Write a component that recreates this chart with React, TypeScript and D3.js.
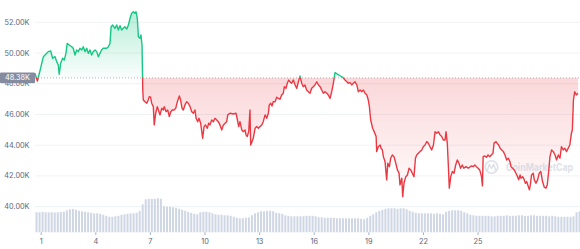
import React from 'react';
import * as d3 from 'd3';

// price series: [day of month, price USD]
const priceSeries: [number, number][] = [
  [0.66,48680],[0.79,48180],[0.90,48680],[1.03,49330],[1.12,49760],[1.21,49870],[1.39,50090],[1.52,50130],
  [1.63,49660],[1.76,49760],[1.85,49440],[1.94,49220],[1.99,48620],[2.07,49330],[2.18,49660],[2.27,49550],
  [2.36,49980],[2.43,50630],[2.54,50520],[2.68,50410],[2.76,50310],[2.86,49870],[2.95,50200],[3.04,50090],
  [3.13,50310],[3.23,50200],[3.31,50410],[3.41,50090],[3.50,50310],[3.59,49980],[3.68,50200],[3.77,49870],
  [3.86,50090],[3.96,50200],[4.05,50090],[4.14,49760],[4.23,49980],[4.32,50200],[4.41,50310],[4.60,50310],
  [4.69,50410],[4.78,50630],[4.84,51710],[4.93,51820],[5.05,51610],[5.15,51820],[5.24,51500],[5.33,51780],
  [5.42,51500],[5.51,51610],[5.60,51710],[5.70,51560],[5.79,51820],[5.88,52260],[5.97,52590],[6.06,52690],
  [6.15,52590],[6.21,52690],[6.28,52260],[6.34,51060],[6.43,50960],[6.48,51170],[6.54,50520],[6.58,47590],
  [6.61,46940],[6.70,46830],[6.80,46730],[6.88,46940],[6.94,47160],[7.01,47120],[7.07,46730],[7.16,46510],
  [7.21,45320],[7.29,46080],[7.38,46510],[7.47,46180],[7.53,45970],[7.62,46400],[7.71,46290],[7.76,46510],
  [7.86,46180],[7.95,46290],[8.04,45860],[8.12,46180],[8.20,46290],[8.30,46290],[8.39,46400],[8.48,46830],
  [8.59,47200],[8.66,46940],[8.74,46400],[8.81,46290],[8.90,46620],[8.99,46830],[9.08,46730],[9.18,46510],
  [9.27,46180],[9.36,46080],[9.45,46290],[9.51,45750],[9.60,45530],[9.67,45750],[9.76,45430],[9.87,44450],
  [9.95,45210],[10.02,45320],[10.13,45100],[10.20,45430],[10.27,45320],[10.37,45640],[10.46,45530],[10.55,45750],
  [10.64,45640],[10.73,45530],[10.82,45320],[10.92,44990],[11.01,45320],[11.10,45430],[11.19,45530],[11.25,45970],
  [11.37,46080],[11.55,46030],[11.70,46080],[11.78,45640],[11.85,45210],[11.92,45530],[12.02,44990],[12.10,44880],
  [12.20,44990],[12.25,44670],[12.32,44560],[12.40,44880],[12.47,46290],[12.51,44010],[12.65,44450],[12.75,45100],
  [12.84,45210],[12.93,45100],[13.02,45210],[13.12,45320],[13.20,45530],[13.30,45970],[13.39,45750],[13.48,46080],
  [13.53,46620],[13.61,46730],[13.68,46550],[13.75,46830],[13.85,46830],[13.94,47120],[14.03,47050],[14.12,46990],
  [14.21,47270],[14.30,47380],[14.36,47810],[14.45,47700],[14.52,48030],[14.60,48240],[14.67,48130],[14.76,48030],
  [14.85,48240],[14.95,47920],[15.04,47700],[15.13,48130],[15.22,48500],[15.31,48030],[15.40,47810],[15.49,47920],
  [15.58,47590],[15.68,47480],[15.77,47380],[15.86,47700],[15.95,47810],[16.04,47920],[16.14,48130],[16.23,47920],
  [16.32,47810],[16.41,47590],[16.50,47380],[16.59,47480],[16.69,47380],[16.77,47270],[16.87,47050],[16.96,47480],
  [17.05,48030],[17.14,48720],[17.27,48620],[17.42,48520],[17.57,48420],[17.69,48240],[17.79,48130],[17.87,48030],
  [17.97,48070],[18.06,47920],[18.15,48030],[18.24,48130],[18.34,47920],[18.42,47480],[18.52,47590],[18.61,47480],
  [18.70,47590],[18.79,47380],[18.89,47270],[18.97,46940],[19.03,46510],[19.10,45640],[19.21,45100],[19.29,44880],
  [19.40,44560],[19.43,43580],[19.52,43900],[19.62,44010],[19.67,43800],[19.74,43690],[19.80,43250],[19.89,42930],
  [19.98,41740],[20.04,42820],[20.13,42600],[20.20,43150],[20.29,43360],[20.38,43250],[20.48,42820],[20.57,42390],
  [20.66,42170],[20.71,41410],[20.81,41850],[20.86,40650],[20.93,41520],[21.03,41950],[21.12,42060],[21.21,42500],
  [21.30,42390],[21.39,42170],[21.48,41950],[21.56,43150],[21.63,43360],[21.72,43470],[21.81,43580],[21.91,43690],
  [21.99,43900],[22.09,44010],[22.18,44230],[22.27,44130],[22.36,43900],[22.45,43690],[22.55,44010],[22.64,44880],
  [22.73,44780],[22.82,44880],[22.91,44670],[23.00,44560],[23.09,44340],[23.19,44340],[23.24,44880],[23.31,44130],
  [23.37,42600],[23.42,41200],[23.50,41950],[23.59,42280],[23.68,42170],[23.77,42710],[23.86,43040],[23.95,42820],
  [24.04,42500],[24.13,42710],[24.22,42500],[24.33,42600],[24.46,42500],[24.64,42650],[24.73,42600],[24.82,42710],
  [24.91,42600],[25.00,42500],[25.09,42390],[25.19,41950],[25.24,41350],[25.28,43250],[25.37,43300],[25.46,43210],
  [25.55,43360],[25.64,43250],[25.73,43360],[25.82,43470],[25.88,44130],[25.99,44230],[26.04,44130],[26.13,44010],
  [26.21,43800],[26.30,43690],[26.39,43580],[26.48,43360],[26.57,43040],[26.66,43150],[26.75,42930],[26.81,42600],
  [26.90,42500],[26.99,42390],[27.08,42170],[27.17,41950],[27.23,41740],[27.31,42060],[27.36,41850],[27.45,41950],
  [27.54,41740],[27.60,41520],[27.67,41630],[27.76,41300],[27.82,41090],[27.87,41410],[27.94,42060],[28.03,42170],
  [28.09,41740],[28.18,41520],[28.27,41740],[28.36,42170],[28.45,42280],[28.54,41630],[28.64,41260],[28.73,41200],
  [28.80,41410],[28.87,42170],[28.95,43250],[29.04,43690],[29.13,43580],[29.23,43360],[29.31,43040],[29.41,43360],
  [29.50,43150],[29.58,43900],[29.68,43690],[29.77,43800],[29.86,43580],[29.95,43800],[30.04,44010],[30.13,44780],
  [30.18,44990],[30.24,46940],[30.31,47480],[30.40,47270],[30.49,47380],
];

// 4-hour volume bars (billions USD), starting at day 0.66
const volumeStartDay = 0.66;
const volumes: number[] = [
  20,20,20.5,20,20,20,19.8,20,20.3,20.5,
  22,23,23.3,22.5,21.5,21,20.5,20,19.5,19,
  19,18.5,17.5,16.5,15.5,15.5,16,16.5,17.5,18,
  18.5,19,19,19.5,21.5,28,33,33.5,33.5,33.5,
  34,33.5,26,25.5,25.5,25,24.5,23.5,22.5,21.5,
  20.5,19.5,18.5,18,20,20.5,20.5,20,19,18,
  17.5,17.5,17,17,16.5,15.5,14.5,14,14,14.5,
  15,17,19,20,21,21,21.5,21.5,21,19.5,
  19,18.5,17,16.5,16,16,16,16,16,16.5,
  16.5,16.5,16,15,15,14.5,14.5,14.5,14.5,14,
  14,14,14,14,14,14,14,13.5,13,14.5,
  16.5,18,20,21.5,22.5,23.5,24,24,24,23.5,
  24,24,23,21.5,20.5,19.5,19,19,19,19,
  19,18.5,19,18.5,18,20.5,21.5,22,22,22,
  21.5,20,19,17.5,17,16.5,16.5,16.5,16.5,16.5,
  16,16,16.5,16.5,16.5,17,16.5,16.5,16.5,17,
  17,16.5,16.5,17,17,16.5,16.5,16.5,16.5,16,
  16.5,16,15.5,15.5,15.5,15.5,15.5,16,20,21,
];

const yTickValues = [40000, 42000, 44000, 46000, 48000, 50000, 52000];
const xTickDays = [1, 4, 7, 10, 13, 16, 19, 22, 25];
const baselinePrice = 48380;

const GREEN = '#16c784';
const RED = '#ea3943';
const FONT = 'Inter, Roboto, sans-serif';

export default function App() {
  const W = 580, H = 249;
  const plotLeft = 35, plotRight = 580;
  const x = d3.scaleLinear().domain([0.66, 30.6]).range([plotLeft, plotRight]);
  const y = d3.scaleLinear().domain([40000, 52000]).range([206.6, 22.3]);
  const volBase = 232.3;
  const yv = d3.scaleLinear().domain([0, 40]).range([volBase, volBase - 40]);
  const by = y(baselinePrice);

  const line = d3.line<[number, number]>().x(d => x(d[0])).y(d => y(d[1]));
  const area = d3.area<[number, number]>().x(d => x(d[0])).y0(by).y1(d => y(d[1]));
  const linePath = line(priceSeries) || '';
  const areaPath = area(priceSeries) || '';

  const barStep = x(volumeStartDay + 1 / 6) - x(volumeStartDay);
  const barW = 2;

  const fmt = (v: number) => (v / 1000).toFixed(2) + 'K';

  return (
    <svg width={W} height={H} style={{ position: 'absolute', left: 0, top: 0, display: 'block', background: '#fff' }}
      xmlns="http://www.w3.org/2000/svg">
      <defs>
        <clipPath id="above"><rect x={0} y={0} width={W} height={by} /></clipPath>
        <clipPath id="below"><rect x={0} y={by} width={W} height={H - by} /></clipPath>
        <linearGradient id="gGreen" gradientUnits="userSpaceOnUse" x1={0} y1={10} x2={0} y2={by}>
          <stop offset="0" stopColor={GREEN} stopOpacity={0.32} />
          <stop offset="1" stopColor={GREEN} stopOpacity={0.02} />
        </linearGradient>
        <linearGradient id="gRed" gradientUnits="userSpaceOnUse" x1={0} y1={by} x2={0} y2={205}>
          <stop offset="0" stopColor={RED} stopOpacity={0.2} />
          <stop offset="1" stopColor={RED} stopOpacity={0.0} />
        </linearGradient>
      </defs>

      {/* grid */}
      {yTickValues.map(v => (
        <line key={v} x1={plotLeft} x2={plotRight} y1={y(v)} y2={y(v)} stroke="#eff2f5" strokeWidth={1} />
      ))}

      {/* volume bars */}
      {volumes.map((v, i) => {
        const cx = x(volumeStartDay + i / 6);
        return (
          <rect key={i} x={cx + (barStep - barW) / 2} y={yv(v)} width={barW} height={volBase - yv(v)} fill="#cfd6e4" />
        );
      })}

      {/* areas */}
      <path d={areaPath} fill="url(#gGreen)" clipPath="url(#above)" />
      <path d={areaPath} fill="url(#gRed)" clipPath="url(#below)" />

      {/* baseline */}
      <line x1={plotLeft} x2={plotRight} y1={by} y2={by} stroke="#a6b0c3" strokeWidth={1} strokeDasharray="1,2" />

      {/* watermark */}
      <g opacity={0.55}>
        <circle cx={491.5} cy={167} r={6.2} fill="none" stroke="#c3cad6" strokeWidth={1.6} />
        <path d="M487.5,170 L489.3,164.3 L491.5,168.5 L493.7,164.3 L495.5,170" fill="none" stroke="#c3cad6" strokeWidth={1.5} strokeLinejoin="round" strokeLinecap="round" />
        <text x={506} y={167} dominantBaseline="central" fontFamily={FONT} fontSize={10.5} fontWeight={700}
          fill="#c3cad6" textLength={67} lengthAdjust="spacingAndGlyphs">CoinMarketCap</text>
      </g>

      {/* price line */}
      <path d={linePath} fill="none" stroke={GREEN} strokeWidth={1.4} strokeLinejoin="round" clipPath="url(#above)" />
      <path d={linePath} fill="none" stroke={RED} strokeWidth={1.4} strokeLinejoin="round" clipPath="url(#below)" />

      {/* y labels */}
      {yTickValues.map(v => (
        <text key={v} x={29.5} y={y(v)} textAnchor="end" dominantBaseline="central" fontFamily={FONT}
          fontSize={7.3} fill="#58667e">{fmt(v)}</text>
      ))}

      {/* baseline label */}
      <rect x={0} y={by - 5.3} width={35} height={10.6} fill="#858ca0" rx={1} />
      <text x={17.5} y={by} textAnchor="middle" dominantBaseline="central" fontFamily={FONT} fontSize={7.3}
        fill="#ffffff">{fmt(baselinePrice)}</text>

      {/* x axis */}
      {xTickDays.map(d => (
        <g key={d}>
          <line x1={x(d)} x2={x(d)} y1={volBase} y2={volBase + 2.7} stroke="#a6b0c3" strokeWidth={1} />
          <text x={x(d)} y={241.7} textAnchor="middle" dominantBaseline="central" fontFamily={FONT}
            fontSize={7.3} fill="#58667e">{String(d)}</text>
        </g>
      ))}
    </svg>
  );
}
